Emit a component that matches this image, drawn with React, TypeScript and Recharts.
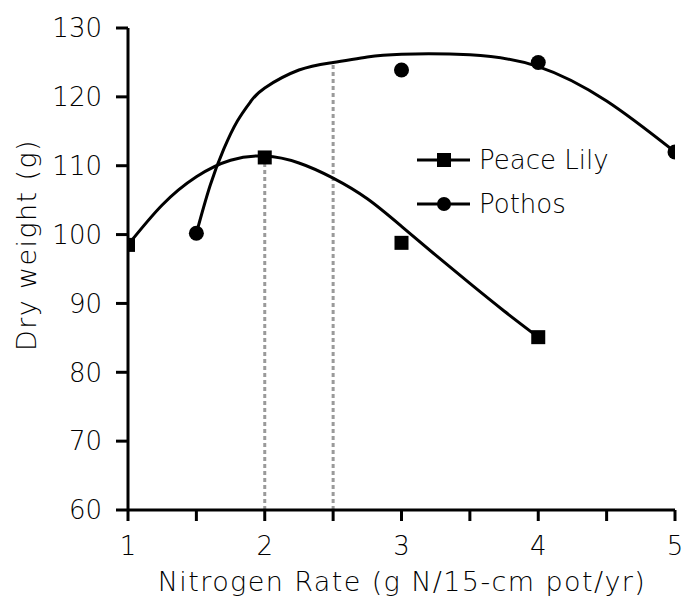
import React from 'react'
import { ComposedChart, Line, Scatter, XAxis, YAxis, ReferenceLine, Label } from 'recharts'

// measured points
const peaceLilyX = [1, 2, 3, 4]
const peaceLilyY = [98.5, 111.2, 98.8, 85.1]
const pothosX = [1.5, 3, 4, 5]
const pothosY = [100.2, 123.9, 125.0, 112.0]

// fitted curves
const peaceLilyFitX = [1, 1.25, 1.5, 1.75, 2, 2.25, 2.5, 2.75, 3, 3.25, 3.5, 3.75, 4]
const peaceLilyFitY = [98.5, 104.3, 108.4, 110.8, 111.4, 110.4, 108.2, 105.2, 101.2, 97.0, 92.9, 88.9, 85.1]
const pothosFitX = [1.5, 1.6, 1.7, 1.8, 1.9, 2, 2.25, 2.5, 2.75, 3, 3.5, 4, 4.5, 5]
const pothosFitY = [100.2, 107.1, 112.4, 116.5, 119.4, 121.3, 123.9, 125.0, 125.8, 126.2, 126.1, 124.4, 119.4, 112.0]

// dotted drop lines (optimum rates)
const optimumX = [2, 2.5]
const optimumY = [111.4, 125.0]

const xTicks = [1, 1.5, 2, 2.5, 3, 3.5, 4, 4.5, 5]
const yTicks = [60, 70, 80, 90, 100, 110, 120, 130]

const FONT = '"DejaVu Sans", sans-serif'

const zip = (xs: number[], ys: number[]) => xs.map((x, i) => ({ x, y: ys[i] }))

const peaceLily = zip(peaceLilyX, peaceLilyY)
const pothos = zip(pothosX, pothosY)
const peaceLilyFit = zip(peaceLilyFitX, peaceLilyFitY)
const pothosFit = zip(pothosFitX, pothosFitY)

const Square = (props: any) => (
  <rect x={props.cx - 7} y={props.cy - 7} width={14} height={14} fill="#000" />
)
const Dot = (props: any) => <circle cx={props.cx} cy={props.cy} r={7.5} fill="#000" />

const legendItems = [
  { name: 'Peace Lily', shape: 'square' },
  { name: 'Pothos', shape: 'circle' },
]

// legend sits inside the plot, so draw it as an overlay instead of letting
// recharts reserve space for it
const ChartLegend = () => (
  <div
    style={{
      position: 'absolute',
      left: 417,
      top: 138,
      fontFamily: FONT,
      fontWeight: 300,
      fontSize: 26,
      color: '#000',
    }}
  >
    {legendItems.map((item) => (
      <div key={item.name} style={{ display: 'flex', alignItems: 'center', height: 44 }}>
        <svg width={54} height={20} style={{ marginRight: 8 }}>
          <line x1={0} y1={10} x2={53} y2={10} stroke="#000" strokeWidth={3} />
          {item.shape === 'square' ? (
            <rect x={20} y={3} width={14} height={14} fill="#000" />
          ) : (
            <circle cx={27} cy={10} r={7} fill="#000" />
          )}
        </svg>
        <span>{item.name}</span>
      </div>
    ))}
  </div>
)

const titleStyle = {
  fontSize: 27,
  fontFamily: FONT,
  fontWeight: 300,
  letterSpacing: 1.4,
  fill: '#000',
}

export default function App() {
  return (
    <div style={{ position: 'relative', width: 688, height: 596 }}>
      <style>{`body{margin:0}`}</style>
      <ComposedChart
        width={688}
        height={596}
        margin={{ top: 28, right: 13, left: 68, bottom: 0 }}
      >
        <XAxis
          type="number"
          dataKey="x"
          domain={[1, 5]}
          ticks={xTicks}
          tickFormatter={(v: number) => (Number.isInteger(v) ? String(v) : '')}
          height={86}
          axisLine={{ stroke: '#000', strokeWidth: 3 }}
          tickLine={{ stroke: '#000', strokeWidth: 3 }}
          tickSize={11}
          tickMargin={16}
          tick={{ fill: '#000', fontSize: 26, fontFamily: FONT, fontWeight: 300 }}
          allowDataOverflow
        >
          <Label
            content={() => (
              <text x={402} y={591} textAnchor="middle" style={titleStyle}>
                Nitrogen Rate (g N/15-cm pot/yr)
              </text>
            )}
          />
        </XAxis>
        <YAxis
          type="number"
          dataKey="y"
          domain={[60, 130]}
          ticks={yTicks}
          width={60}
          axisLine={{ stroke: '#000', strokeWidth: 3 }}
          tickLine={{ stroke: '#000', strokeWidth: 3 }}
          tickSize={12}
          tickMargin={14}
          tick={{ fill: '#000', fontSize: 26, fontFamily: FONT, fontWeight: 300 }}
          allowDataOverflow
        >
          <Label
            content={() => (
              <text
                x={36}
                y={245}
                transform="rotate(-90 36 245)"
                textAnchor="middle"
                style={titleStyle}
              >
                Dry weight (g)
              </text>
            )}
          />
        </YAxis>
        {optimumX.map((x, i) => (
          <ReferenceLine
            key={x}
            segment={[
              { x, y: 60 },
              { x, y: optimumY[i] },
            ]}
            stroke="#9a9a9a"
            strokeWidth={3}
            strokeDasharray="4 3"
          />
        ))}
        <Line
          data={peaceLilyFit}
          dataKey="y"
          type="natural"
          stroke="#000"
          strokeWidth={3}
          dot={false}
          activeDot={false}
          isAnimationActive={false}
        />
        <Line
          data={pothosFit}
          dataKey="y"
          type="natural"
          stroke="#000"
          strokeWidth={3}
          dot={false}
          activeDot={false}
          isAnimationActive={false}
        />
        <Scatter name="Peace Lily" data={peaceLily} dataKey="y" shape={Square} isAnimationActive={false} />
        <Scatter name="Pothos" data={pothos} dataKey="y" shape={Dot} isAnimationActive={false} />
      </ComposedChart>
      <ChartLegend />
    </div>
  )
}
